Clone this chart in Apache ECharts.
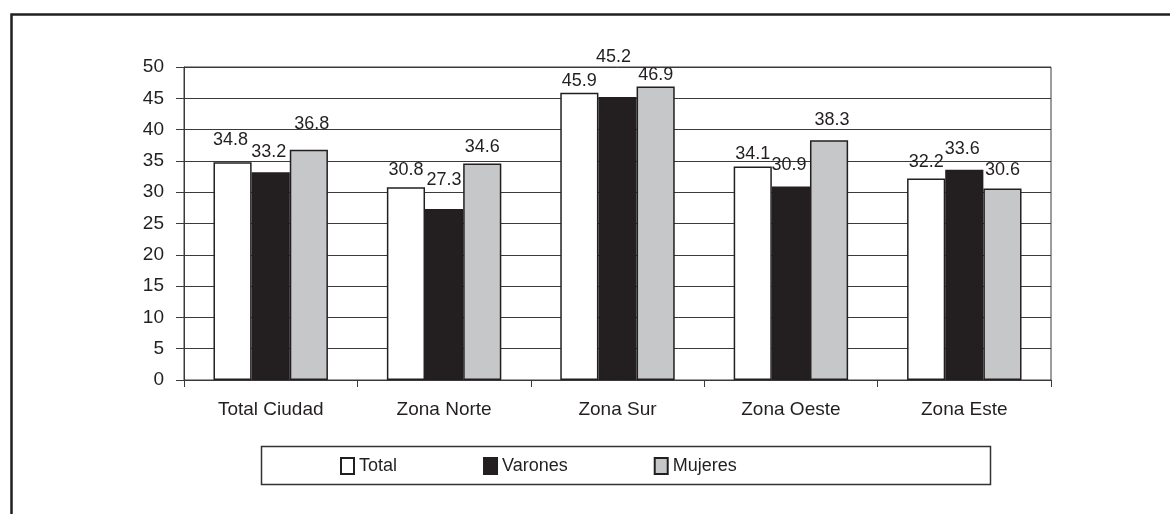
<!DOCTYPE html>
<html>
<head>
<meta charset="utf-8">
<title>Zonas</title>
<script src="https://cdn.jsdelivr.net/npm/echarts@6/dist/echarts.min.js"></script>
<style>
  html, body { margin: 0; padding: 0; background: #fff; }
  #chart { width: 1170px; height: 514px; }
</style>
</head>
<body>
<div id="chart"></div>
<script>
// datos
const categories = ['Total Ciudad', 'Zona Norte', 'Zona Sur', 'Zona Oeste', 'Zona Este'];
const total = [34.8, 30.8, 45.9, 34.1, 32.2];
const varones = [33.2, 27.3, 45.2, 30.9, 33.6];
const mujeres = [36.8, 34.6, 46.9, 38.3, 30.6];

// desplazamiento de etiquetas (como en el original)
const totalOffset = [[-2, -4], [0, 1], [0, 6], [0, 5], [0, 2]];
const varonesOffset = [[-2, -2], [0, -11], [-4, -22], [-2, -4], [-2, -3]];
const mujeresOffset = [[3, -8], [0, 2], [0, 7], [3, -2], [0, 0]];

const textColor = '#231f20';
const lineColor = '#3a3a3a';

function withLabels(values, offsets) {
  return values.map((v, i) => ({ value: v, label: { offset: offsets[i] } }));
}

function barSeries(name, values, offsets, fill) {
  return {
    name: name,
    type: 'bar',
    barGap: '0%',
    barCategoryGap: '34%',
    itemStyle: {
      color: fill,
      borderColor: textColor,
      borderWidth: 1.5,
    },
    label: {
      show: true,
      position: 'top',
      distance: 9,
      color: textColor,
      fontFamily: 'Liberation Sans, Arial, sans-serif',
      fontSize: 18,
      formatter: (p) => p.value.toFixed(1),
    },
    emphasis: { disabled: true },
    data: withLabels(values, offsets),
  };
}

const option = {
  animation: false,
  backgroundColor: '#fff',
  textStyle: { fontFamily: 'Liberation Sans, Arial, sans-serif' },
  grid: {
    left: 184,
    right: 119,
    top: 67,
    bottom: 134,
    show: true,
    borderColor: lineColor,
    borderWidth: 1,
  },
  legend: {
    left: 340,
    top: 457,
    padding: 0,
    icon: 'rect',
    itemWidth: 13,
    itemHeight: 16,
    itemGap: 86,
    textStyle: {
      color: textColor,
      fontSize: 18,
      fontFamily: 'Liberation Sans Narrow, Arial Narrow, Liberation Sans, sans-serif',
    },
    data: ['Total', 'Varones', 'Mujeres'],
  },
  xAxis: {
    type: 'category',
    data: categories,
    axisLine: { show: true, lineStyle: { color: lineColor, width: 1 } },
    axisTick: { show: true, length: 7, lineStyle: { color: lineColor } },
    axisLabel: {
      color: textColor,
      fontSize: 19,
      margin: 20,
    },
  },
  yAxis: {
    type: 'value',
    min: 0,
    max: 50,
    interval: 5,
    axisLine: { show: true, lineStyle: { color: lineColor, width: 1 } },
    axisTick: { show: true, length: 8, lineStyle: { color: lineColor } },
    splitLine: { show: true, lineStyle: { color: lineColor, width: 1 } },
    axisLabel: {
      color: textColor,
      fontSize: 19,
      margin: 20,
    },
  },
  graphic: [
    {
      type: 'polyline',
      shape: { points: [[11.5, 514], [11.5, 14.5], [1170, 14.5]] },
      style: { stroke: textColor, lineWidth: 2.5, fill: null },
      silent: true,
    },
    {
      type: 'rect',
      shape: { x: 261.5, y: 446.5, width: 729, height: 38 },
      style: { stroke: '#333', lineWidth: 1.5, fill: null },
      silent: true,
      z: -1,
    },
  ],
  series: [
    barSeries('Total', total, totalOffset, '#ffffff'),
    barSeries('Varones', varones, varonesOffset, textColor),
    barSeries('Mujeres', mujeres, mujeresOffset, '#c6c7c9'),
  ],
};

const chart = echarts.init(document.getElementById('chart'));
chart.setOption(option);
window.addEventListener('resize', () => { chart.resize(); });
</script>
</body>
</html>
